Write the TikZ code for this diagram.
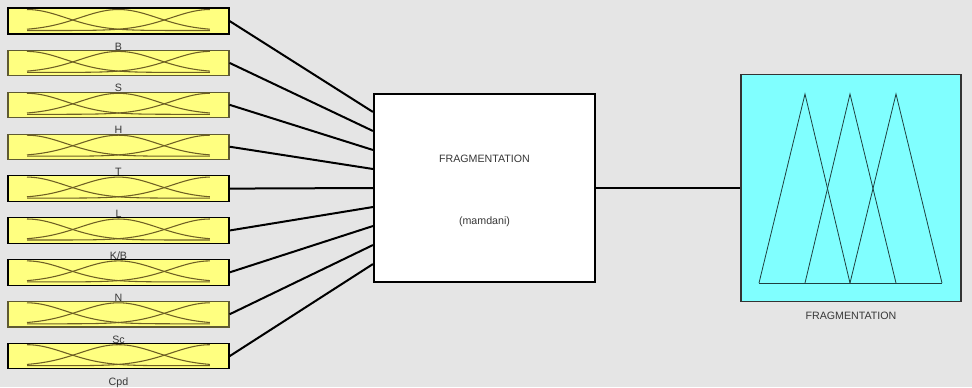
\documentclass[tikz,border=0pt]{standalone}
\usepackage{fontspec}
\setmainfont{Liberation Sans}
\usetikzlibrary{calc}

\definecolor{bggray}{RGB}{229,229,229}
\definecolor{mfyellow}{RGB}{255,255,128}
\definecolor{mfcyan}{RGB}{128,255,255}
\definecolor{mfolive}{RGB}{110,95,35}
\definecolor{edgeolive}{RGB}{95,90,50}
\definecolor{txtgray}{RGB}{55,55,55}

\tikzset{
  inbox/.style={draw=edgeolive, line width=0.8pt, fill=mfyellow, minimum width=165.75pt, minimum height=19pt, inner sep=0pt},
  fisbox/.style={draw=black, line width=1.6pt, fill=white, minimum width=165.75pt, minimum height=141pt, inner sep=0pt},
  outbox/.style={draw=black!80, line width=0.9pt, fill=mfcyan, minimum width=165pt, minimum height=170.25pt, inner sep=0pt},
  mfcurve/.style={draw=mfolive, line width=0.8pt},
  tri/.style={draw=black!75!mfcyan, line width=0.6pt, line join=miter},
  wire/.style={draw=black, line width=1.5pt},
  lbl/.style={font=\fontsize{8}{9.6}\selectfont, text=txtgray, inner sep=0pt},
}

\begin{document}
\begin{tikzpicture}[x=0.75pt,y=0.75pt,yscale=-1,xscale=1]
%background, sets the diagram size 972 x 387
\fill[bggray] (0,0) rectangle (972,387);
\useasboundingbox (0,0) rectangle (972,387);

%Shape: main system box
\node[fisbox] (fis) at (484.5,188) {};
% Text Node
\node[lbl, anchor=base] (fistitle) at (484.5,162) {FRAGMENTATION};
% Text Node
\node[lbl, anchor=base] (fistype) at (484.5,224) {(mamdani)};

%Shape: output box
\node[outbox] (out) at (851,188) {};
% Text Node
\node[lbl, anchor=base] (outlabel) at (851,319) {FRAGMENTATION};
%Triangles of the output
\draw[tri] (759,283) -- (805,94) -- (850,283);
\draw[tri] (805,283) -- (850,94) -- (896,283);
\draw[tri] (850,283) -- (896,94) -- (942,283);
\draw[tri] (759,283) -- (942,283);

%Input boxes with their curves
\foreach \name/\edge [count=\i, evaluate=\i as \yc using 21+41.9*(\i-1)] in
    {B/black, S/edgeolive, H/edgeolive, T/edgeolive, L/black, K\slash B/black, N/black, Sc/edgeolive, Cpd/black} {
  \node[inbox, draw=\edge] (in\i) at (118.5,\yc) {};
  \foreach \c in {0,0.5,1}
    \draw[mfcurve] plot[domain=0:1, samples=45, smooth]
      ({27+183*\x}, {\yc+9.5-21*exp(-((\x-\c)^2)/0.09)});
  \node[lbl, anchor=base] (lab\i) at (118.5,\yc+29) {\name};
  %Straight Lines
  \draw[wire] (in\i.east) -- ($(fis.north west)!\i/10!(fis.south west)$);
}
\draw[line width=1.4pt] (in1.north west) rectangle (in1.south east);

%Straight Lines
\draw[wire] (fis.east) -- (out.west);

\end{tikzpicture}
\end{document}
